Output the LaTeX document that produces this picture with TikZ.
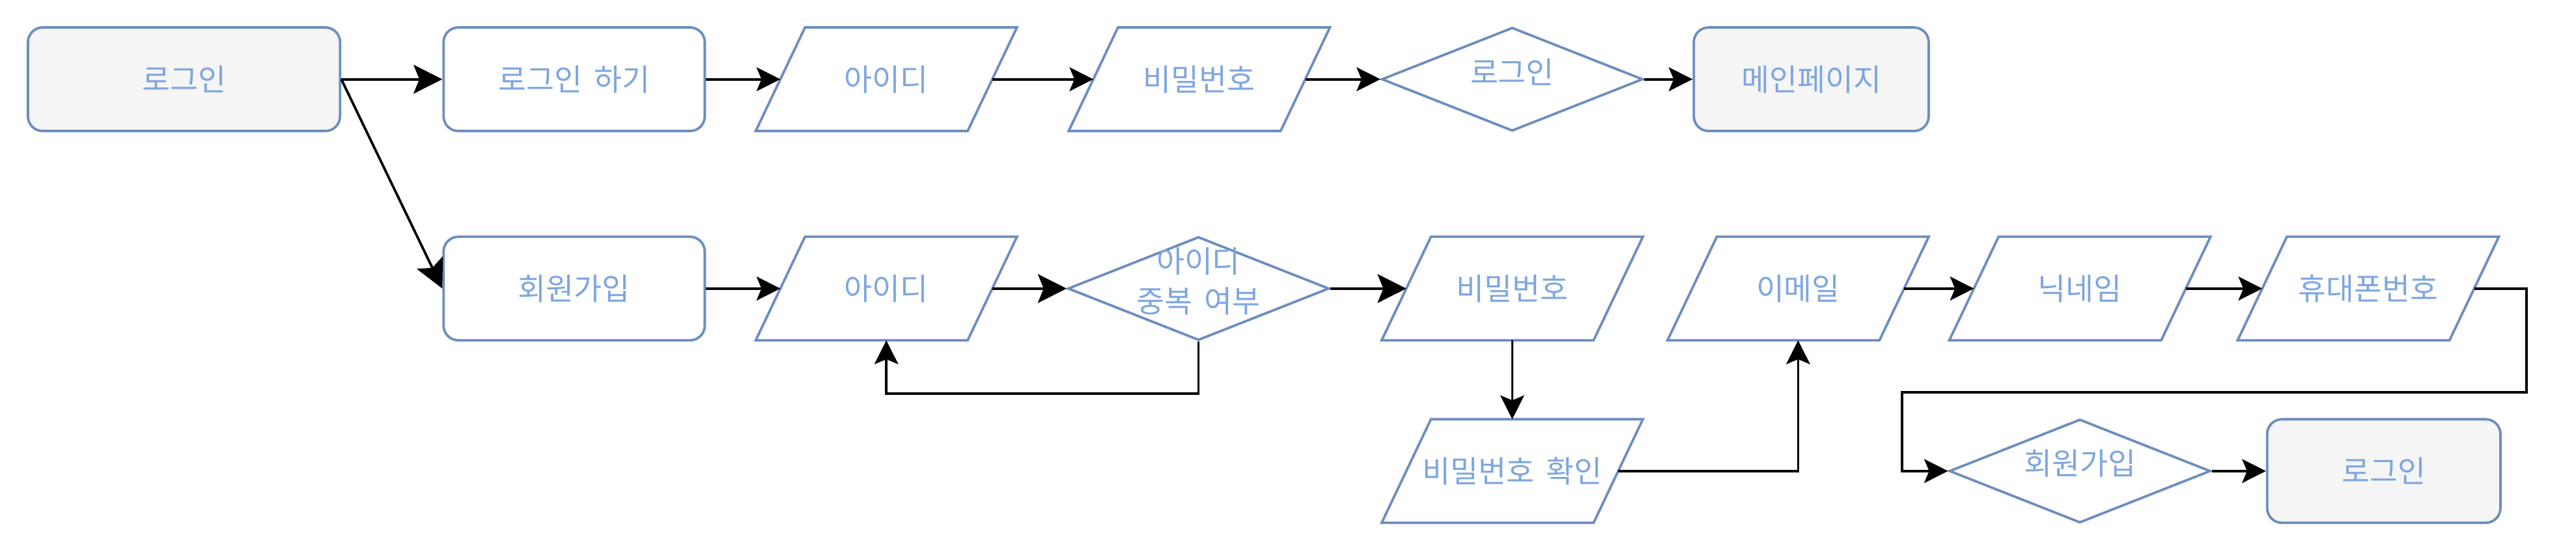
\documentclass[tikz,border=0pt]{standalone}
\usepackage{fontspec}
\usepackage{xcolor}
\usetikzlibrary{arrows.meta,shapes.geometric}
\setmainfont{Noto Sans CJK KR}[WordSpace=1.7]

\definecolor{boxline}{HTML}{6C8EBF}
\definecolor{boxtext}{HTML}{7EA6E0}
\definecolor{boxgray}{HTML}{F5F5F5}

\tikzset{
  base/.style={draw=boxline, line width=1.5pt, text=boxtext, inner sep=0pt,
    minimum height=63pt, font=\fontsize{18.5}{24}\selectfont, align=center},
  proc/.style={base, rectangle, rounded corners=9pt, minimum width=159pt},
  term/.style={proc, fill=boxgray},
  % parallelogram, slanted by 30pt, drawn round a bare box
  data/.style={base, rectangle, draw=none, outer sep=0pt, minimum width=159pt,
    append after command={\pgfextra{\let\pnode\tikzlastnode
      \draw[boxline, line width=1.5pt]
        ([xshift=30pt]\pnode.north west) -- (\pnode.north east)
        -- ([xshift=-30pt]\pnode.south east) -- (\pnode.south west) -- cycle;}}},
  decision/.style={base, diamond, minimum width=159pt},
  dectext/.style={text=boxtext, inner sep=0pt, yshift=4.5pt, align=center,
    font=\fontsize{18.5}{24}\selectfont},
  flow/.style={line width=1.5pt, -{Stealth[length=14.5pt, width=14.5pt, inset=3pt]}},
  bigflow/.style={line width=1.5pt, -{Stealth[length=17.5pt, width=17.5pt, inset=3.5pt]}},
}

\begin{document}
\begin{tikzpicture}[x=1pt, y=-1pt]
  \useasboundingbox (0,0) rectangle (1568,334.5);

  % Log in row
  \node[term, minimum width=190pt] (start) at (112,48.2) {로그인};
  \node[proc] (doLogin) at (349.5,48.2) {로그인 하기};
  \node[data] (id1) at (539.5,48.2) {아이디};
  \node[data] (pw1) at (730,48.2) {비밀번호};
  \node[decision, label={[dectext]center:로그인}] (chk1) at (920.5,48.2) {};
  \node[term, minimum width=143pt] (main) at (1102.5,48.2) {메인페이지};

  % Sign up row
  \node[proc] (join) at (349.5,175.5) {회원가입};
  \node[data] (id2) at (539.5,175.5) {아이디};
  \node[decision, label={[dectext]center:{아이디\\중복 여부}}] (dup) at (729.5,175.5) {};
  \node[data] (pw2) at (920.5,175.5) {비밀번호};
  \node[data] (mail) at (1094.5,175.5) {이메일};
  \node[data] (nick) at (1266,175.5) {닉네임};
  \node[data] (phone) at (1441.5,175.5) {휴대폰번호};

  % Last row
  \node[data] (pwc) at (920.5,286.5) {비밀번호 확인};
  \node[decision, label={[dectext]center:회원가입}] (join2) at (1266,286.5) {};
  \node[term, minimum width=142pt] (login2) at (1451,286.5) {로그인};

  % Connectors
  \draw[bigflow] (start) -- (doLogin);
  \draw[flow] (doLogin) -- ([xshift=15pt]id1.west);
  \draw[flow] ([xshift=-15pt]pw1.east) -- (chk1);
  \draw[flow] (chk1) -- (main);
  \draw[bigflow] (start.east) -- (join.west);

  \draw[flow] (join) -- ([xshift=15pt]id2.west);
  \draw[bigflow] ([xshift=-15pt]id2.east) -- (dup);
  \draw[bigflow] (dup) -- ([xshift=15pt]pw2.west);
  \draw[flow] (dup.south) -- ++(0,31.6) -| (id2.south);
  \draw[flow] (pw2) -- (pwc);
  \draw[flow] ([xshift=-15pt]pwc.east) -| (mail.south);
  \foreach \a/\b in {id1/pw1, mail/nick, nick/phone} {
    \draw[flow] ([xshift=-15pt]\a.east) -- ([xshift=15pt]\b.west);
  }
  \draw[flow] ([xshift=-15pt]phone.east) -| ++(32,63.1)
    -| ([xshift=-28pt]join2.west) -- (join2.west);
  \draw[flow] (join2) -- (login2);
\end{tikzpicture}
\end{document}
